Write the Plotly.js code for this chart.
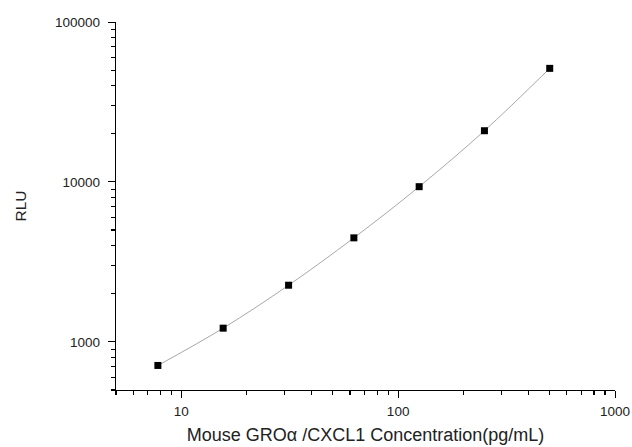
<!DOCTYPE html>
<html>
<head>
<meta charset="utf-8">
<script src="https://cdn.plot.ly/plotly-3.0.1.min.js"></script>
<style>html,body{margin:0;padding:0;background:#fff;}#chart{width:632px;height:447px;}</style>
</head>
<body>
<div id="chart"></div>
<script>
const concentration = [7.8, 15.6, 31.25, 62.5, 125, 250, 500];
const rlu = [712, 1218, 2260, 4470, 9340, 20900, 51300];
const xTickVals = [10, 100, 1000];
const xTickText = ["10", "100", "1000"];
const yTickVals = [1000, 10000, 100000];
const yTickText = ["1000", "10000", "100000"];

function minorTicks(lo, hi) {
  const out = [];
  for (let d = lo; d < hi; d *= 10) {
    for (let k = 2; k <= 9; k++) out.push(d * k);
  }
  return out;
}

const fit = {
  x: concentration, y: rlu, type: 'scatter', mode: 'lines',
  line: {color: '#a8a8a8', width: 1, shape: 'spline', smoothing: 1},
  hoverinfo: 'skip', showlegend: false
};
const pts = {
  x: concentration, y: rlu, type: 'scatter', mode: 'markers',
  marker: {symbol: 'square', size: 7, color: '#000'},
  showlegend: false
};

const layout = {
  width: 632, height: 447,
  margin: {l: 116, r: 17, t: 22, b: 57},
  paper_bgcolor: '#fff', plot_bgcolor: '#fff',
  font: {family: 'Liberation Sans, Arial, sans-serif', color: '#222', size: 13},
  showlegend: false,
  xaxis: {
    type: 'log', range: [Math.log10(5), 3],
    tickmode: 'array', tickvals: xTickVals, ticktext: xTickText,
    ticks: 'outside', ticklen: 7, tickwidth: 1, tickcolor: '#000',
    ticklabelstandoff: 1,
    minor: {tickmode: 'array', tickvals: minorTicks(1, 1000).filter(v => v >= 5), ticks: 'outside', ticklen: 4, tickwidth: 1.2, tickcolor: '#000', showgrid: false},
    showline: true, linecolor: '#000', linewidth: 1.3, mirror: false,
    showgrid: false, zeroline: false,
    tickfont: {size: 13.5, color: '#222'},
    title: {text: 'Mouse GROα /CXCL1 Concentration(pg/mL)', font: {size: 18, color: '#222'}, standoff: 11}
  },
  yaxis: {
    type: 'log', range: [Math.log10(500), 5],
    tickmode: 'array', tickvals: yTickVals, ticktext: yTickText,
    ticks: 'outside', ticklen: 7, tickwidth: 1, tickcolor: '#000',
    ticklabelstandoff: 5,
    minor: {tickmode: 'array', tickvals: minorTicks(100, 100000).filter(v => v >= 500), ticks: 'outside', ticklen: 4, tickwidth: 1.2, tickcolor: '#000', showgrid: false},
    showline: true, linecolor: '#000', linewidth: 1.3, mirror: false,
    showgrid: false, zeroline: false,
    tickfont: {size: 13.5, color: '#222'},
    title: {text: 'RLU', font: {size: 15.5, color: '#222'}, standoff: 24}
  }
};

Plotly.newPlot('chart', [fit, pts], layout, {displayModeBar: false, staticPlot: true});
</script>
</body>
</html>
